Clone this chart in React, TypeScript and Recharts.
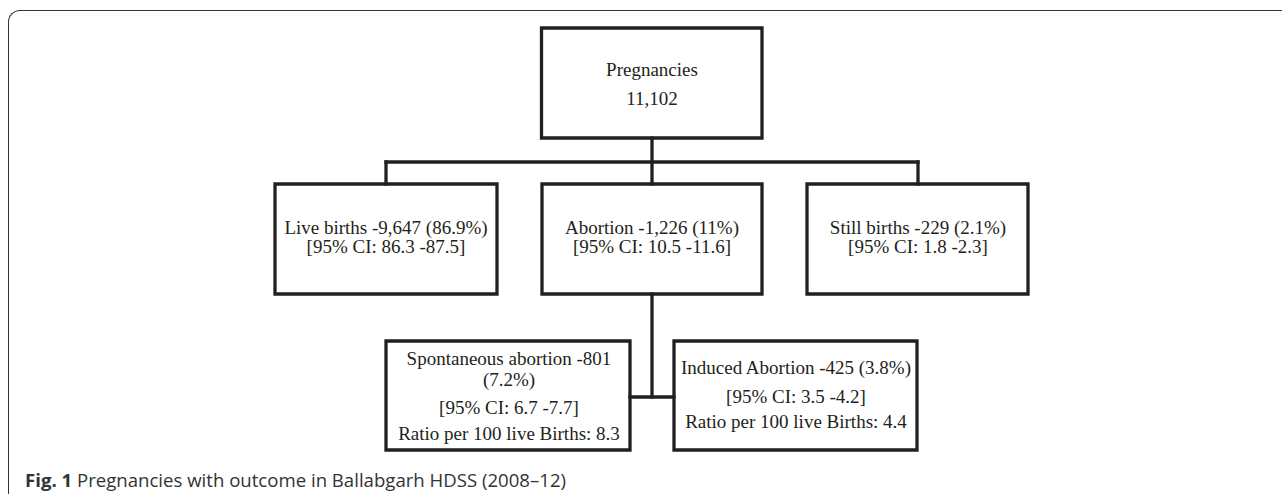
import React from 'react';
import { ScatterChart, Scatter, XAxis, YAxis, ReferenceArea, ReferenceLine } from 'recharts';

// ---------- data ----------
const nodeLabels = ['Pregnancies', 'Live births', 'Abortion', 'Still births', 'Spontaneous abortion', 'Induced Abortion'];
const nodeCounts = [11102, 9647, 1226, 229, 801, 425];
const nodePercents: (number | null)[] = [null, 86.9, 11, 2.1, 7.2, 3.8];
const ciLow: (string | null)[] = [null, '86.3', '10.5', '1.8', '6.7', '3.5'];
const ciHigh: (string | null)[] = [null, '87.5', '11.6', '2.3', '7.7', '4.2'];
const ratioPer100: (string | null)[] = [null, null, null, null, '8.3', '4.4'];
const captionBold = 'Fig. 1';
const captionText = ' Pregnancies with outcome in Ballabgarh HDSS (2008–12)';

// ---------- layout (diagram coordinates) ----------
const W = 1282;
const H = 494;
const boxX1 = [541.5, 275, 542, 807, 386, 674];
const boxX2 = [762, 497, 762, 1028, 630, 917];
const boxY1 = [28, 184, 184, 184, 341, 341];
const boxY2 = [138, 294, 294, 294, 450, 450];
const textX = [652, 386, 652, 918, 509, 796];
const lineY: number[][] = [
  [69, 98],
  [227, 246],
  [227, 246],
  [227, 246],
  [358, 379, 407, 433],
  [367, 396, 421],
];
const connectors: [number, number, number, number][] = [
  [652, 138, 652, 162],
  [386, 162, 918, 162],
  [386, 162, 386, 184],
  [652, 162, 652, 184],
  [918, 162, 918, 184],
  [652, 294, 652, 397],
  [630, 397, 674, 397],
];

const fmt = (n: number) => n.toLocaleString('en-US');

function nodeLines(i: number): string[] {
  const head = `${nodeLabels[i]} -${fmt(nodeCounts[i])}`;
  const pct = nodePercents[i] != null ? `(${nodePercents[i]}%)` : '';
  const ci = ciLow[i] != null ? `[95% CI: ${ciLow[i]} -${ciHigh[i]}]` : '';
  const ratio = ratioPer100[i] != null ? `Ratio per 100 live Births: ${ratioPer100[i]}` : '';
  if (i === 0) return [nodeLabels[0], fmt(nodeCounts[0])];
  if (i === 4) return [head, pct, ci, ratio];
  if (i === 5) return [`${head} ${pct}`, ci, ratio];
  return [`${head} ${pct}`, ci];
}

const textData = nodeLabels.flatMap((_, i) =>
  nodeLines(i).map((t, k) => ({ x: textX[i], y: lineY[i][k], text: t }))
);

const INK = '#231f20';

const TextShape = (props: any) => {
  const { cx, cy, payload } = props;
  return (
    <text
      x={cx}
      y={cy}
      textAnchor="middle"
      dominantBaseline="central"
      fontFamily="'Liberation Serif', 'Times New Roman', serif"
      fontSize={19}
      fill={INK}
    >
      {payload.text}
    </text>
  );
};

export default function App() {
  return (
    <div style={{ position: 'relative', width: W, height: H, background: '#fff' }}>
      <style>{'body{margin:0}'}</style>
      <div
        style={{
          position: 'absolute',
          left: 8,
          top: 10,
          width: W - 8,
          height: H - 10,
          borderLeft: '1.5px solid #333',
          borderTop: '1.5px solid #333',
          borderTopLeftRadius: 12,
          boxSizing: 'border-box',
        }}
      />
      <div style={{ position: 'absolute', left: 0, top: 0 }}>
        <ScatterChart width={W} height={H} margin={{ top: 0, right: 0, bottom: 0, left: 0 }}>
          <XAxis type="number" dataKey="x" domain={[0, W]} hide allowDataOverflow />
          <YAxis type="number" dataKey="y" domain={[0, H]} reversed hide allowDataOverflow />
          {connectors.map((c, i) => (
            <ReferenceLine
              key={'c' + i}
              segment={[{ x: c[0], y: c[1] }, { x: c[2], y: c[3] }]}
              stroke={INK}
              strokeWidth={3.3}
              strokeLinecap="square"
              ifOverflow="visible"
            />
          ))}
          {nodeLabels.map((_, i) => (
            <ReferenceArea
              key={'b' + i}
              x1={boxX1[i]}
              x2={boxX2[i]}
              y1={boxY1[i]}
              y2={boxY2[i]}
              stroke={INK}
              strokeWidth={3.3}
              fill="#ffffff"
              fillOpacity={1}
              ifOverflow="visible"
            />
          ))}
          <Scatter data={textData} shape={TextShape} isAnimationActive={false} />
        </ScatterChart>
      </div>
      <div
        style={{
          position: 'absolute',
          left: 25,
          top: 467,
          fontFamily: "'Open Sans', sans-serif",
          fontSize: 18.6,
          color: '#333',
          whiteSpace: 'nowrap',
          lineHeight: '25px',
        }}
      >
        <b>{captionBold}</b>
        {captionText}
      </div>
    </div>
  );
}
